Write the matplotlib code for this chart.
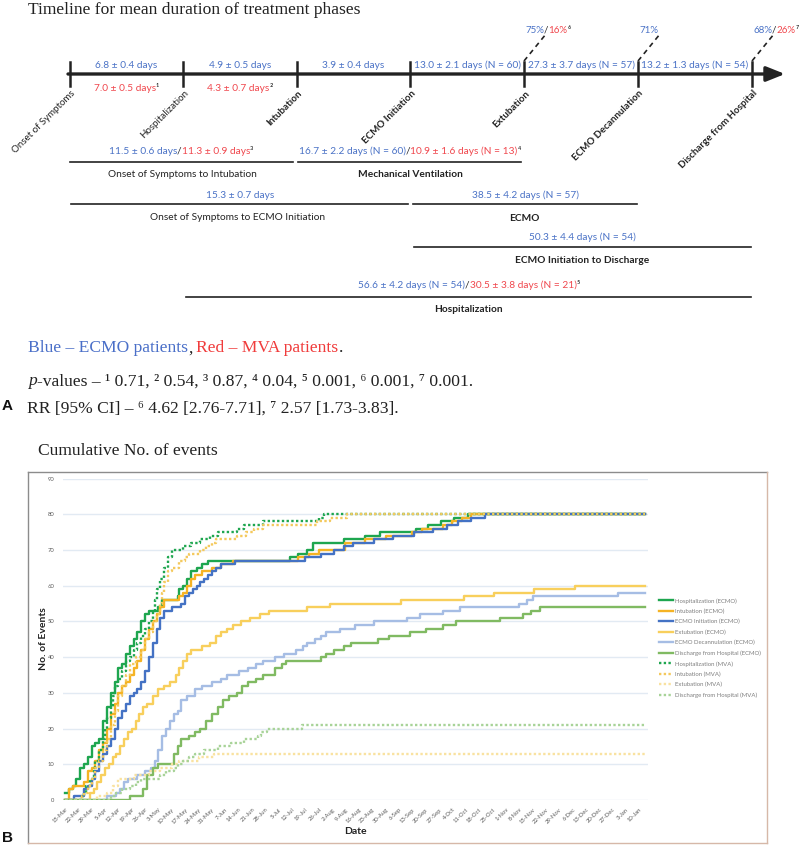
import matplotlib
matplotlib.use("Agg")
import matplotlib.pyplot as plt
from matplotlib.transforms import offset_copy

SANS = ["Lato", "DejaVu Sans"]
SERIF = ["Liberation Serif", "DejaVu Serif"]
plt.rcParams["font.family"] = SANS

BLUE = "#4a72c6"
RED = "#f0474d"
INK = "#222222"

# ---- panel A: timeline ----
milestones = ["Onset of Symptoms", "Hospitalization", "Intubation", "ECMO Initiation",
              "Extubation", "ECMO Decannulation", "Discharge from Hospital"]
milestone_bold = [False, False, True, True, True, True, True]
ecmo_steps = ["6.8 ± 0.4 days", "4.9 ± 0.5 days", "3.9 ± 0.4 days",
              "13.0 ± 2.1 days (N = 60)", "27.3 ± 3.7 days (N = 57)", "13.2 ± 1.3 days (N = 54)"]
mva_steps = ["7.0 ± 0.5 days", "4.3 ± 0.7 days"]
mva_step_notes = ["¹", "²"]
survival_ecmo = ["75%", "71%", "68%"]
survival_mva = ["16%", None, "26%"]
survival_notes = ["⁶", "", "⁷"]
span_ecmo = ["11.5 ± 0.6 days", "16.7 ± 2.2 days (N = 60)", "15.3 ± 0.7 days",
             "38.5 ± 4.2 days (N = 57)", "50.3 ± 4.4 days (N = 54)", "56.6 ± 4.2 days (N = 54)"]
span_mva = ["11.3 ± 0.9 days", "10.9 ± 1.6 days (N = 13)", None, None, None, "30.5 ± 3.8 days (N = 21)"]
span_notes = ["³", "⁴", "", "", "", "⁵"]
span_names = ["Onset of Symptoms to Intubation", "Mechanical Ventilation",
              "Onset of Symptoms to ECMO Initiation", "ECMO",
              "ECMO Initiation to Discharge", "Hospitalization"]
span_bold = [False, True, False, True, True, True]

# ---- panel B: cumulative events (day 0 = 15-Mar) ----
tick_labels = ["15-Mar", "22-Mar", "29-Mar", "5-Apr", "12-Apr", "19-Apr", "26-Apr", "3-May",
               "10-May", "17-May", "24-May", "31-May", "7-Jun", "14-Jun", "21-Jun", "28-Jun",
               "5-Jul", "12-Jul", "19-Jul", "26-Jul", "2-Aug", "9-Aug", "16-Aug", "23-Aug",
               "30-Aug", "6-Sep", "13-Sep", "20-Sep", "27-Sep", "4-Oct", "11-Oct", "18-Oct",
               "25-Oct", "1-Nov", "8-Nov", "15-Nov", "22-Nov", "29-Nov", "6-Dec", "13-Dec",
               "20-Dec", "27-Dec", "3-Jan", "10-Jan"]
END_DAY = 304

hosp_ecmo_day = [0, 2, 4, 6, 8, 10, 12, 14, 16, 18, 20, 22, 24, 26, 28, 30, 32, 34, 36, 38, 40, 42, 44,
                 49, 51, 59, 60, 62, 64, 66, 69, 72, 75, 118, 122, 127, 130, 146, 157, 165, 184, 190,
                 197, 204, 211]
hosp_ecmo_n = [2, 3, 4, 6, 9, 10, 12, 15, 16, 17, 22, 26, 30, 33, 37, 38, 41, 43, 45, 47, 50, 52, 53,
               54, 56, 57, 59, 60, 62, 64, 65, 66, 67, 68, 69, 70, 72, 73, 74, 75, 76, 77, 78, 79, 80]

intub_ecmo_day = [0, 2, 4, 10, 12, 14, 16, 18, 20, 22, 24, 26, 28, 30, 32, 34, 36, 38, 40, 42, 44, 46,
                  48, 50, 52, 60, 62, 64, 66, 68, 72, 77, 82, 88, 122, 128, 133, 147, 157, 168, 182,
                  187, 198, 203, 208, 213]
intub_ecmo_n = [0, 3, 4, 5, 8, 9, 11, 14, 16, 20, 24, 27, 30, 32, 33, 35, 37, 39, 42, 45, 48, 50, 52,
                54, 56, 57, 58, 60, 62, 63, 64, 65, 66, 67, 68, 69, 70, 72, 73, 74, 75, 76, 77, 78, 79, 80]

init_ecmo_day = [0, 5, 10, 12, 14, 16, 18, 20, 22, 24, 26, 28, 30, 32, 34, 36, 38, 40, 42, 44, 46, 48,
                 50, 52, 56, 61, 63, 65, 67, 69, 71, 73, 75, 77, 79, 82, 89, 126, 134, 141, 146, 151,
                 162, 172, 183, 193, 200, 206, 213, 220]
init_ecmo_n = [0, 1, 3, 4, 6, 8, 11, 13, 15, 17, 20, 23, 25, 27, 29, 30, 31, 33, 36, 40, 44, 48, 51,
               53, 54, 55, 57, 58, 59, 60, 61, 62, 63, 64, 65, 66, 67, 68, 69, 70, 71, 72, 73, 74, 75,
               76, 77, 78, 79, 80]

extub_ecmo_day = [0, 13, 15, 17, 19, 21, 23, 25, 27, 29, 31, 33, 35, 37, 39, 41, 43, 46, 49, 52, 55,
                  58, 60, 62, 64, 66, 72, 76, 79, 82, 85, 88, 92, 97, 102, 107, 127, 139, 176, 209,
                  225, 246, 267]
extub_ecmo_n = [0, 2, 3, 5, 7, 9, 10, 12, 13, 15, 17, 19, 20, 22, 24, 26, 27, 29, 31, 32, 33, 35, 37,
                39, 41, 42, 43, 44, 46, 47, 48, 49, 50, 51, 52, 53, 54, 55, 56, 57, 58, 59, 60]

decann_ecmo_day = [0, 22, 27, 29, 31, 33, 38, 42, 45, 47, 49, 51, 53, 55, 57, 59, 61, 64, 68, 72, 77,
                   82, 85, 91, 96, 100, 104, 110, 115, 121, 125, 127, 131, 134, 137, 144, 152, 162,
                   179, 186, 198, 207, 238, 242, 245, 290]
decann_ecmo_n = [0, 1, 2, 3, 5, 6, 7, 8, 9, 11, 14, 18, 20, 22, 24, 25, 28, 29, 31, 32, 33, 34, 35,
                 36, 37, 38, 39, 40, 41, 42, 43, 44, 45, 46, 47, 48, 49, 50, 51, 52, 53, 54, 55, 56,
                 57, 58]

disch_ecmo_day = [0, 34, 41, 43, 46, 49, 57, 59, 61, 65, 68, 71, 74, 77, 80, 83, 86, 90, 93, 96, 100,
                  104, 110, 114, 116, 134, 137, 141, 146, 150, 164, 170, 181, 189, 198, 205, 228,
                  240, 244, 249]
disch_ecmo_n = [0, 1, 3, 7, 9, 10, 13, 15, 17, 18, 19, 20, 22, 24, 26, 28, 29, 30, 32, 33, 34, 35,
                37, 38, 39, 40, 41, 42, 43, 44, 45, 46, 47, 48, 49, 50, 51, 52, 53, 54]

hosp_mva_day = [0, 9, 10, 11, 13, 15, 16, 18, 20, 21, 22, 24, 25, 26, 28, 30, 32, 34, 36, 38, 40, 42,
                44, 46, 47, 48, 50, 52, 54, 56, 62, 66, 71, 76, 80, 90, 94, 104, 133, 136]
hosp_mva_n = [0, 1, 2, 4, 6, 8, 11, 14, 17, 20, 23, 26, 29, 32, 34, 36, 39, 40, 42, 44, 46, 48, 50,
              53, 56, 59, 62, 65, 68, 70, 71, 72, 73, 74, 75, 76, 77, 78, 79, 80]

intub_mva_day = [0, 9, 10, 12, 14, 16, 18, 20, 22, 24, 26, 28, 30, 32, 34, 37, 40, 42, 44, 46, 48, 50,
                 51, 52, 54, 56, 60, 63, 65, 71, 74, 77, 79, 90, 95, 99, 104, 132, 139, 148]
intub_mva_n = [0, 1, 2, 4, 6, 9, 11, 14, 17, 21, 25, 29, 32, 35, 38, 40, 42, 45, 47, 50, 52, 55, 58,
               61, 64, 65, 67, 68, 69, 70, 71, 72, 73, 74, 75, 76, 77, 78, 79, 80]

extub_mva_day = [0, 17, 22, 25, 28, 36, 44, 50, 56, 60, 70, 78]
extub_mva_n = [0, 1, 2, 4, 6, 7, 8, 9, 10, 11, 12, 13]

disch_mva_day = [0, 24, 27, 30, 34, 37, 40, 50, 53, 57, 59, 62, 65, 68, 73, 80, 87, 94, 101, 103, 106, 124]
disch_mva_n = [0, 1, 2, 3, 4, 5, 6, 7, 8, 9, 10, 11, 12, 13, 14, 15, 16, 17, 18, 19, 20, 21]

series = [
    ("Hospitalization (ECMO)", hosp_ecmo_day, hosp_ecmo_n, "#1ea64f", "-"),
    ("Intubation (ECMO)", intub_ecmo_day, intub_ecmo_n, "#f5b324", "-"),
    ("ECMO Initiation (ECMO)", init_ecmo_day, init_ecmo_n, "#4472c4", "-"),
    ("Extubation (ECMO)", extub_ecmo_day, extub_ecmo_n, "#f8cf5c", "-"),
    ("ECMO Decannulation (ECMO)", decann_ecmo_day, decann_ecmo_n, "#a6bde4", "-"),
    ("Discharge from Hospital (ECMO)", disch_ecmo_day, disch_ecmo_n, "#80ba62", "-"),
    ("Hospitalization (MVA)", hosp_mva_day, hosp_mva_n, "#1ea64f", (0, (1, 1))),
    ("Intubation (MVA)", intub_mva_day, intub_mva_n, "#f4c95d", (0, (1, 1))),
    ("Extubation (MVA)", extub_mva_day, extub_mva_n, "#f9e2a0", (0, (1, 1))),
    ("Discharge from Hospital (MVA)", disch_mva_day, disch_mva_n, "#a8d398", (0, (1, 1))),
]

fig = plt.figure(figsize=(8, 8.49), dpi=100)
ov = fig.add_axes([0, 0, 1, 1])
ov.set_xlim(0, 800)
ov.set_ylim(849, 0)
ov.axis("off")
R = fig.canvas.get_renderer()


def rich(x, y, parts, ha="left", size=7.3, family=SANS, weight="normal"):
    # draw coloured pieces side by side, y is the visual centre
    base = y + 0.36 * size * 100 / 72
    cum = 0.0
    placed = []
    for p in parts:
        if isinstance(p, (int, float)):
            cum += p
            continue
        st = p[2] if len(p) > 2 else "normal"
        t = ov.text(x, base, p[0], color=p[1], fontsize=size, family=family,
                    fontweight=weight, fontstyle=st, ha="left", va="baseline")
        placed.append((t, cum))
        cum += t.get_window_extent(R).width
    shift = {"left": 0, "center": -cum / 2, "right": -cum}[ha]
    for t, off in placed:
        t.set_transform(offset_copy(ov.transData, fig=fig, x=off + shift, y=0, units="dots"))


# main axis
tick_x = [70, 183, 297, 410, 524, 638, 752]
ov.annotate("", xy=(785, 74), xytext=(68, 74),
            arrowprops=dict(arrowstyle="-|>,head_length=0.8,head_width=0.32", lw=2.4,
                            color=INK, shrinkA=0, shrinkB=0, mutation_scale=14))
for x, name, b in zip(tick_x, milestones, milestone_bold):
    ov.plot([x, x], [62, 86], color=INK, lw=1.8)
    ov.text(x + 4, 92, name, rotation=45, rotation_mode="anchor", ha="right", va="center",
            fontsize=7.0, fontweight="bold" if b else "normal", color=INK)

for i, s in enumerate(ecmo_steps):
    rich((tick_x[i] + tick_x[i + 1]) / 2, 64, [(s, BLUE)], ha="center")
for i, s in enumerate(mva_steps):
    rich((tick_x[i] + tick_x[i + 1]) / 2, 87, [(s, RED), (mva_step_notes[i], INK)], ha="center")

for x, e, m, n in zip(tick_x[4:], survival_ecmo, survival_mva, survival_notes):
    ov.plot([x, x + 22], [61, 34], color=INK, lw=1.2, ls=(0, (3, 2.5)))
    parts = [(e, BLUE)]
    if m:
        parts += [("/", INK), (m, RED), (n, INK)]
    rich(x + 1, 29, parts, size=7.0)

span_lines = [(70, 293, 162), (298, 521, 162), (71, 408, 204), (413, 637, 204),
              (414, 751, 247), (186, 751, 297)]
span_text_pos = [(181, 150), (410, 150), (240, 194), (525, 194), (582, 236), (469, 284)]
span_name_pos = [(182, 173), (410, 173), (238, 216), (524, 217), (582, 259), (468, 308)]
for i in range(len(span_names)):
    x0, x1, yl = span_lines[i]
    ov.plot([x0, x1], [yl, yl], color=INK, lw=1.2)
    parts = [(span_ecmo[i], BLUE)]
    if span_mva[i]:
        parts += [("/", INK), (span_mva[i], RED), (span_notes[i], INK)]
    rich(span_text_pos[i][0], span_text_pos[i][1], parts, ha="center")
    rich(span_name_pos[i][0], span_name_pos[i][1], [(span_names[i], INK)], ha="center",
         weight="bold" if span_bold[i] else "normal")

# serif captions
SZ = 12.6
rich(28, 8, [("Timeline for mean duration of treatment phases", INK)], size=SZ, family=SERIF)
rich(28, 346, [("Blue – ECMO patients", "#4a6fc8"), (",", INK), 4,
               ("Red – MVA patients", "#f03c3c"), (".", INK)], size=SZ, family=SERIF)
rich(28, 379, [("p", INK, "italic"),
               ("-values – ¹ 0.71, ² 0.54, ³ 0.87, ⁴ 0.04, ⁵ 0.001, ⁶ 0.001, ⁷ 0.001.", INK)],
     size=SZ, family=SERIF)
rich(27, 406, [("RR [95% CI] – ⁶ 4.62 [2.76-7.71], ⁷ 2.57 [1.73-3.83].", INK)], size=SZ, family=SERIF)
rich(38, 449, [("Cumulative No. of events", INK)], size=SZ, family=SERIF)
ov.text(2, 406, "A", fontsize=11, fontweight="bold", family=["Liberation Sans"], va="center", color="#111111")
ov.text(2, 838, "B", fontsize=11, fontweight="bold", family=["Liberation Sans"], va="center", color="#111111")

# chart frame
ov.plot([28, 767], [472, 472], color="#8c8c8c", lw=1)
ov.plot([28, 28], [472, 843], color="#8c8c8c", lw=1)
ov.plot([28, 767], [843, 843], color="#d6b8a8", lw=1)
ov.plot([767, 767], [472, 843], color="#d6b8a8", lw=1)
ov.text(43, 639, "No. of Events", rotation=90, ha="center", va="center", fontsize=7.5,
        fontweight="bold", color=INK)
ov.text(355, 832, "Date", ha="center", va="center", fontsize=7.5, fontweight="bold", color=INK)

# ---- panel B chart ----
ax = fig.add_axes([63 / 800, 1 - 800 / 849, 585 / 800, 321.4 / 849])
ax.set_facecolor("none")
for sp in ax.spines.values():
    sp.set_visible(False)
ax.set_xlim(-1, 305.5)
ax.set_ylim(0, 90)
ax.set_yticks(range(0, 91, 10))
ax.yaxis.grid(True, color="#e2eaf3", lw=1.0)
ax.set_axisbelow(True)
ax.set_xticks([7 * i for i in range(len(tick_labels))])
ax.set_xticklabels(tick_labels, rotation=45, ha="right", rotation_mode="anchor")
ax.tick_params(axis="both", length=0, labelsize=4.2, labelcolor="#595959")
ax.tick_params(axis="y", pad=6)
ax.tick_params(axis="x", pad=5)

handles = []
for label, d, n, col, ls in series:
    h, = ax.plot(d + [END_DAY], n + [n[-1]], drawstyle="steps-post", color=col, ls=ls,
                 lw=1.7, label=label)
    handles.append(h)

fig.legend(handles=handles, loc="upper left", bbox_to_anchor=(659 / 800, 1 - 598 / 849),
           fontsize=4.3, frameon=False, handlelength=2.4, handletextpad=0.3, labelspacing=0.85,
           borderpad=0, borderaxespad=0, labelcolor="#7f7f7f")

fig.savefig("out.png", dpi=100)
